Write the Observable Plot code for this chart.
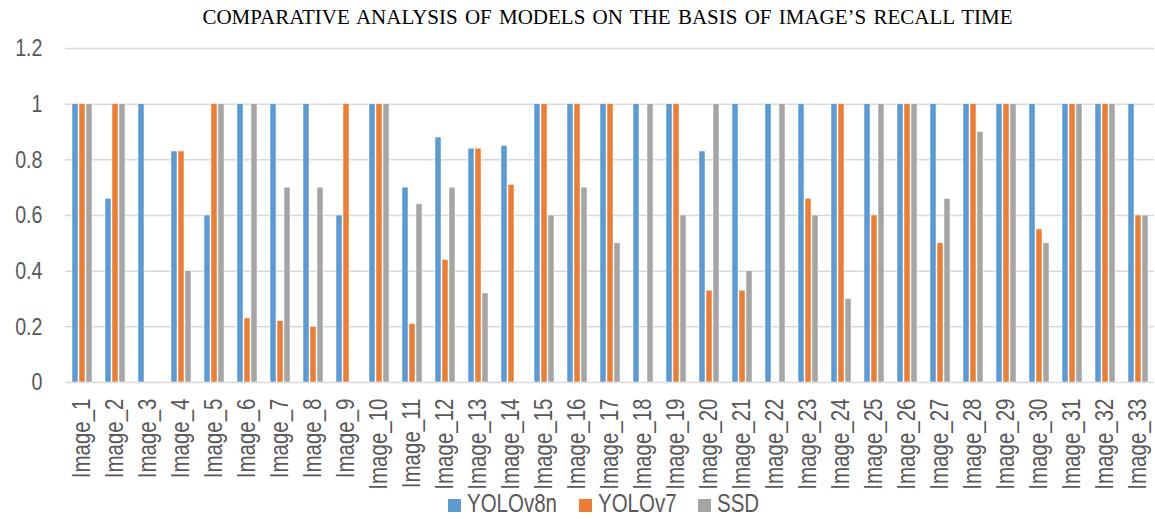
<!DOCTYPE html>
<html><head><meta charset="utf-8">
<script src="https://cdn.jsdelivr.net/npm/d3@7"></script>
<script src="https://cdn.jsdelivr.net/npm/@observablehq/plot@0.6"></script>
<style>
body{margin:0;background:#fff;width:1155px;}
#title{height:32px;text-align:center;font-family:"Liberation Serif","Times New Roman",serif;font-size:21px;word-spacing:2px;line-height:34px;color:#000;padding-left:60px;box-sizing:border-box;white-space:nowrap;}
#legend{display:flex;justify-content:center;align-items:center;font-family:"Liberation Sans",sans-serif;font-size:25px;color:#595959;height:32px;margin-left:52px;}
.item{display:flex;align-items:center;margin:0 11px;}
.sw{width:13px;height:13px;margin-right:6px;margin-top:4px;}
.tx{display:inline-block;transform:scaleX(0.82);transform-origin:left center;white-space:nowrap;}
</style></head>
<body>
<div id="title">COMPARATIVE ANALYSIS OF MODELS ON THE BASIS OF IMAGE’S RECALL TIME</div>
<div id="chart"></div>
<div id="legend"></div>
<script>
const images = Array.from({length:33},(_,i)=>"Image_"+(i+1));
const series = ["YOLOv8n","YOLOv7","SSD"];
const colors = ["#5B9BD5","#ED7D31","#A5A5A5"];
const yolov8n = [1,0.66,1,0.83,0.6,1,1,1,0.6,1,0.7,0.88,0.84,0.85,1,1,1,1,1,0.83,1,1,1,1,1,1,1,1,1,1,1,1,1];
const yolov7  = [1,1,0,0.83,1,0.23,0.22,0.2,1,1,0.21,0.44,0.84,0.71,1,1,1,0,1,0.33,0.33,0,0.66,1,0.6,1,0.5,1,1,0.55,1,1,0.6];
const ssd     = [1,1,0,0.4,1,1,0.7,0.7,0,1,0.64,0.7,0.32,0,0.6,0.7,0.5,1,0.6,1,0.4,1,0.6,0.3,1,1,0.66,0.9,1,0.5,1,1,0.6];
const yTicks = [0,0.2,0.4,0.6,0.8,1,1.2];

const vals = [yolov8n, yolov7, ssd];
const data = [];
images.forEach((im,i)=>series.forEach((s,j)=>data.push({image:im, series:s, value:vals[j][i]})));

const chart = Plot.plot({
  width:1155, height:455,
  marginLeft:63, marginRight:0, marginTop:16, marginBottom:105,
  style:{fontFamily:"'Liberation Sans', sans-serif", color:"#595959", background:"#fff", overflow:"visible"},
  fx:{domain:images, paddingInner:0, paddingOuter:0, label:null},
  x:{domain:series, axis:null, paddingInner:0.2, paddingOuter:0.8},
  y:{domain:[0,1.2], label:null},
  color:{domain:series, range:colors},
  marks:[
    Plot.ruleY(yTicks, {stroke:"#d9d9d9", strokeWidth:1.5}),
    Plot.barY(data, {fx:"image", x:"series", y:"value", fill:"series", stroke:"white", strokeWidth:0.5}),
    Plot.axisY({ticks:yTicks, tickSize:0, tickPadding:23, fontSize:24, label:null, fill:"#595959",
      tickFormat:d=>String(+d.toFixed(1))}),
    Plot.axisFx({anchor:"bottom", tickRotate:-90, tickSize:0, tickPadding:16, fontSize:25, label:null, fill:"#595959"})
  ]
});
document.getElementById("chart").appendChild(chart);

// condense tick label glyphs (narrow-font look)
chart.querySelectorAll('g[aria-label$="tick label"] text').forEach(el=>{
  const t = el.getAttribute("transform");
  if (t) el.setAttribute("transform", t + " scale(0.82,1)");
  else {
    const x = el.getAttribute("x")||0, y = el.getAttribute("y")||0;
    el.removeAttribute("x"); el.removeAttribute("y");
    el.setAttribute("transform", `translate(${x},${y}) scale(0.82,1)`);
  }
});

const lg = document.getElementById("legend");
series.forEach((s,j)=>{
  const it = document.createElement("div"); it.className="item";
  const sw = document.createElement("div"); sw.className="sw"; sw.style.background=colors[j];
  const t = document.createElement("span"); t.className="tx"; t.textContent=s;
  it.appendChild(sw); it.appendChild(t); lg.appendChild(it);
  const w = t.getBoundingClientRect().width / 0.82;
  t.style.marginRight = (-(w*0.18)) + "px";
});
</script>
</body></html>
